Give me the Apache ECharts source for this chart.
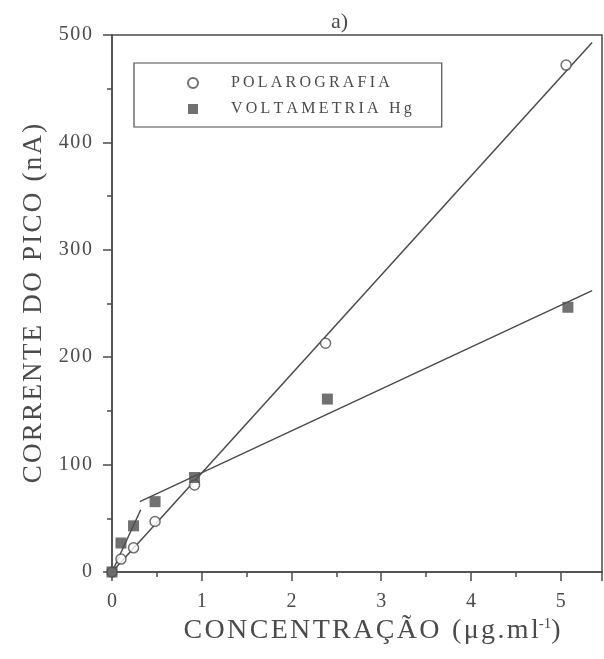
<!DOCTYPE html>
<html><head><meta charset="utf-8">
<script src="https://cdn.jsdelivr.net/npm/echarts@6/dist/echarts.min.js"></script>
<style>html,body{margin:0;padding:0;background:#fff}#c{width:604px;height:659px}</style>
</head><body><div id="c"></div>
<script>
// ---- data ----
const concPolar = [0, 0.1, 0.24, 0.48, 0.92, 2.38, 5.06];
const currentPolar = [0, 12, 22.5, 47, 81, 213, 472];
const concVolt = [0, 0.1, 0.24, 0.48, 0.92, 2.4, 5.08];
const currentVolt = [0, 27, 43, 65.5, 88, 161, 246.5];
const fitPolarX = [0, 5.35];
const fitPolarY = [0, 493];
const fitVoltLowX = [0, 0.32];
const fitVoltLowY = [0, 58];
const fitVoltHighX = [0.31, 5.35];
const fitVoltHighY = [65.5, 262];
const seriesNames = ['POLAROGRAFIA', 'VOLTAMETRIA Hg'];

const ink = '#4b4b4b';
const font = "'Liberation Serif', 'Times New Roman', serif";
const sp = (s, ch) => s.split('').join(ch);
const zip = (a, b) => a.map((v, i) => [v, b[i]]);
const H = '\u200A';

const chart = echarts.init(document.getElementById('c'));
chart.setOption({
  backgroundColor: '#fff',
  animation: false,
  title: {
    text: 'a)', left: 326, top: 6,
    textStyle: { fontFamily: font, fontSize: 22, fontWeight: 'normal', color: ink }
  },
  legend: {
    orient: 'vertical', left: 134, top: 63,
    data: seriesNames,
    formatter: n => sp(n, '\u2009'),
    itemWidth: 10, itemHeight: 10, itemGap: 10,
    padding: [12, 30, 10, 53],
    borderColor: ink, borderWidth: 1.2,
    textStyle: { fontFamily: font, fontSize: 16, color: ink, padding: [0, 0, 0, 28] }
  },
  grid: { left: 112, right: 2, top: 35, bottom: 87, show: true, borderColor: ink, borderWidth: 1.5,
          backgroundColor: 'transparent', outerBoundsMode: 'none', containLabel: false },
  xAxis: [{
    type: 'value', min: 0, max: 5.46, interval: 1,
    name: '{t|' + sp('CONCENTRAÇÃO', H) + '\u2009 ' + sp('(μg.ml', H) + '}{s|-1}{t|)}',
    nameLocation: 'middle', nameGap: 44,
    nameTextStyle: {
      padding: [0, 0, 0, 30],
      rich: {
        t: { fontFamily: font, fontSize: 28, color: ink },
        s: { fontFamily: font, fontSize: 15, color: ink, verticalAlign: 'top', padding: [0, 0, 12, 0] }
      }
    },
    axisLine: { lineStyle: { color: ink, width: 1.5 } },
    axisTick: { length: 9, lineStyle: { color: ink, width: 1.5 } },
    minorTick: { show: true, splitNumber: 2, length: 5, lineStyle: { color: ink, width: 1.5 } },
    splitLine: { show: false },
    axisLabel: { fontFamily: font, fontSize: 20, color: ink, margin: 20, showMaxLabel: false }
  }, {
    type: 'value', min: 0, max: 5.46, interval: 0.5, position: 'bottom',
    axisLine: { show: false },
    axisTick: { show: true, length: 5, lineStyle: { color: ink, width: 1.5 } },
    axisLabel: { show: false }, splitLine: { show: false }
  }],
  yAxis: {
    type: 'value', min: 0, max: 500, interval: 100,
    name: sp('CORRENTE DO PICO (nA)', H),
    nameLocation: 'middle', nameGap: 64,
    nameTextStyle: { fontFamily: font, fontSize: 27, color: ink },
    axisLine: { show: true, lineStyle: { color: ink, width: 1.5 } },
    axisTick: { show: true, length: 9, lineStyle: { color: ink, width: 1.5 } },
    minorTick: { show: true, splitNumber: 2, length: 5, lineStyle: { color: ink, width: 1.5 } },
    splitLine: { show: false },
    axisLabel: { fontFamily: font, fontSize: 20, color: ink, margin: 20, formatter: v => sp(String(v), H) }
  },
  series: [
    { type: 'line', data: zip(fitPolarX, fitPolarY), showSymbol: false, symbol: 'none', silent: true,
      lineStyle: { color: ink, width: 1.5 }, z: 1 },
    { type: 'line', data: zip(fitVoltLowX, fitVoltLowY), showSymbol: false, symbol: 'none', silent: true,
      lineStyle: { color: ink, width: 1.5 }, z: 1 },
    { type: 'line', data: zip(fitVoltHighX, fitVoltHighY), showSymbol: false, symbol: 'none', silent: true,
      lineStyle: { color: ink, width: 1.5 }, z: 1 },
    { name: seriesNames[0], type: 'scatter', data: zip(concPolar, currentPolar), symbol: 'circle', symbolSize: 10,
      itemStyle: { color: '#fff', borderColor: ink, borderWidth: 1.5 }, z: 3 },
    { name: seriesNames[1], type: 'scatter', data: zip(concVolt, currentVolt), symbol: 'rect', symbolSize: 11,
      itemStyle: { color: '#4d4d4d' }, z: 4 }
  ]
});
</script>
</body></html>
